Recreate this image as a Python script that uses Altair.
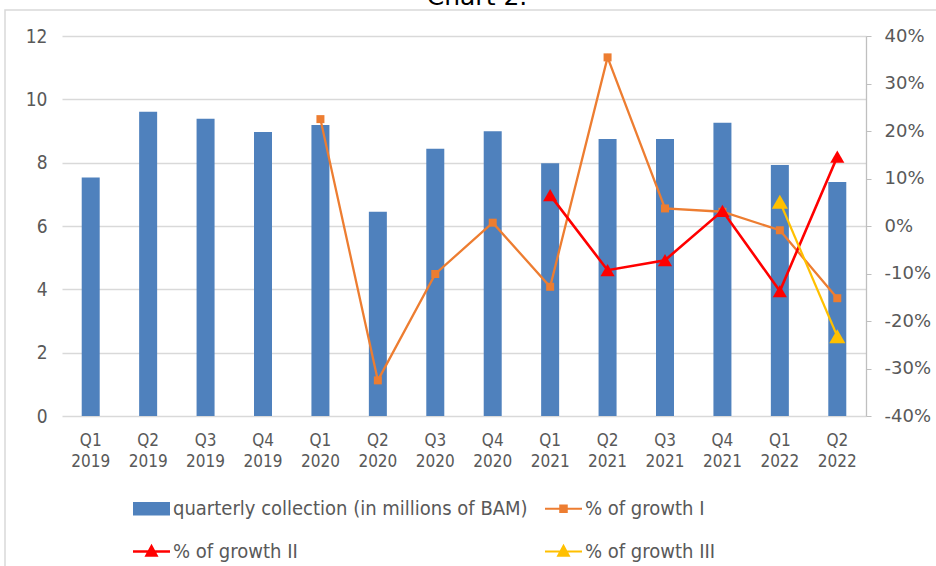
import altair as alt
import pandas as pd

# Quarterly collection (millions of BAM) and growth rates
quarters = ["Q1 2019", "Q2 2019", "Q3 2019", "Q4 2019",
            "Q1 2020", "Q2 2020", "Q3 2020", "Q4 2020",
            "Q1 2021", "Q2 2021", "Q3 2021", "Q4 2021",
            "Q1 2022", "Q2 2022"]
collection = [7.53, 9.61, 9.39, 8.97, 9.19, 6.45, 8.44, 8.99,
              7.98, 8.75, 8.75, 9.26, 7.93, 7.39]
growth_1 = [None, None, None, None, 0.225, -0.325, -0.101, 0.007,
            -0.128, 0.355, 0.037, 0.030, -0.009, -0.152]
growth_2 = [None, None, None, None, None, None, None, None,
            0.065, -0.093, -0.072, 0.032, -0.137, 0.146]
growth_3 = [None, None, None, None, None, None, None, None,
            None, None, None, None, 0.051, -0.232]

series_names = ["quarterly collection (in millions of BAM)",
                "% of growth I", "% of growth II", "% of growth III"]
series_colors = ["#4f81bd", "#ed7d31", "#ff0000", "#ffc000"]
# legend fills column by column: bars and growth II on the left
legend_order = [series_names[0], series_names[2], series_names[1], series_names[3]]

chart_title = "Chart 2."

LABEL_FONT = "'DejaVu Sans Condensed', 'DejaVu Sans'"
RIGHT_FONT = "DejaVu Sans"
TEXT_GREY = "#595959"
GRID_GREY = "#d9d9d9"

bar_df = pd.DataFrame({"quarter": quarters, "collection": collection})

rows = []
for name, values in zip(series_names[1:], [growth_1, growth_2, growth_3]):
    for q, v in zip(quarters, values):
        if v is not None:
            rows.append({"quarter": q, "series": name, "value": v})
growth_df = pd.DataFrame(rows)

x_enc = alt.X(
    "quarter:N",
    title=None,
    scale=alt.Scale(domain=quarters, paddingInner=0, paddingOuter=0),
    axis=alt.Axis(
        labelExpr="split(datum.label, ' ')",
        labelAngle=0, labelFont=LABEL_FONT, labelFontSize=17,
        labelColor=TEXT_GREY, labelLineHeight=21, labelPadding=16,
        domain=False, ticks=False, tickSize=0, grid=False,
    ),
)

one_row = pd.DataFrame({"k": [0]})

# Background frame around the whole figure
frame = alt.Chart(one_row).mark_rect(
    filled=False, color=GRID_GREY, strokeWidth=1.5
).encode(
    x=alt.value(-57), x2=alt.value(900), y=alt.value(-26), y2=alt.value(600)
)

# Heading above the frame (partly beyond the top edge of the page)
heading = alt.Chart(one_row).mark_text(
    text=chart_title, font=RIGHT_FONT, fontSize=25, color="#000000",
    align="center", baseline="alphabetic"
).encode(x=alt.value(415), y=alt.value(-31))

bars = alt.Chart(bar_df).mark_bar(size=18, color=series_colors[0]).encode(
    x=x_enc,
    y=alt.Y(
        "collection:Q", title=None,
        scale=alt.Scale(domain=[0, 12], nice=False),
        axis=alt.Axis(
            orient="left", values=[0, 2, 4, 6, 8, 10, 12],
            domain=False, ticks=False, grid=True,
            gridColor=GRID_GREY, gridWidth=1.3,
            labelFont=LABEL_FONT, labelFontSize=19,
            labelColor=TEXT_GREY, labelPadding=15,
        ),
    ),
)

pct_axis = alt.Axis(
    orient="right", values=[-0.4, -0.3, -0.2, -0.1, 0, 0.1, 0.2, 0.3, 0.4],
    labelExpr="(datum.value < -0.0001 ? '-' : '') + format(abs(datum.value) * 100, '.0f') + '%'",
    grid=False, domain=True, domainColor="#bfbfbf", domainWidth=1.3,
    ticks=True, tickColor="#bfbfbf", tickSize=5,
    labelFont=RIGHT_FONT, labelFontSize=18, labelColor=TEXT_GREY,
    labelPadding=13,
)
y_pct = alt.Y("value:Q", title=None,
              scale=alt.Scale(domain=[-0.4, 0.4], nice=False), axis=pct_axis)

styles = [
    # name, colour, line width, marker shape, marker size
    (series_names[1], series_colors[1], 2.3, "square", 64),
    (series_names[2], series_colors[2], 2.6, "triangle-up", 200),
    (series_names[3], series_colors[3], 2.2, "triangle-up", 260),
]
growth_layers = []
for name, colour, lw, shape, size in styles:
    sub = alt.Chart(growth_df).transform_filter(alt.datum.series == name)
    growth_layers.append(
        sub.mark_line(color=colour, strokeWidth=lw).encode(x=x_enc, y=y_pct)
    )
    growth_layers.append(
        sub.mark_point(shape=shape, filled=True, size=size, color=colour,
                       opacity=1, strokeWidth=0).encode(x=x_enc, y=y_pct)
    )
growth = alt.layer(*growth_layers)

# Legend glyphs: a block for the bars, a line with its marker for the rates
legend_paths = [
    "M-1,-0.36H1V0.36H-1Z",
    "M-1,-0.06H1V0.06H-1Z M-0.23,-0.23H0.23V0.23H-0.23Z",
    "M-1,-0.07H1V0.07H-1Z M0,-0.42L0.38,0.28H-0.38Z",
    "M-1,-0.06H1V0.06H-1Z M0,-0.42L0.38,0.28H-0.38Z",
]
legend_def = alt.Legend(
    title=None, orient="none", legendX=71, legendY=454, columns=2,
    values=legend_order,
    symbolSize=1369, symbolOpacity=1, symbolStrokeWidth=0,
    labelFont=LABEL_FONT, labelFontSize=20, labelColor=TEXT_GREY,
    labelOffset=3, labelLimit=600, columnPadding=17, rowPadding=14,
)
legend_layer = alt.Chart(pd.DataFrame({"series": series_names})).mark_point(
    filled=True, opacity=0
).encode(
    color=alt.Color("series:N", scale=alt.Scale(domain=series_names, range=series_colors),
                    legend=legend_def),
    shape=alt.Shape("series:N", scale=alt.Scale(domain=series_names, range=legend_paths),
                    legend=legend_def),
)

chart = alt.layer(frame, heading, bars, growth, legend_layer).resolve_scale(
    y="independent"
).properties(
    width=804, height=380,
    autosize=alt.AutoSizeParams(type="none"),
    padding={"left": 62, "top": 36, "right": 70, "bottom": 150},
).configure_view(stroke=None)

chart.save("out.html", embed_options={"renderer": "svg", "actions": False})
